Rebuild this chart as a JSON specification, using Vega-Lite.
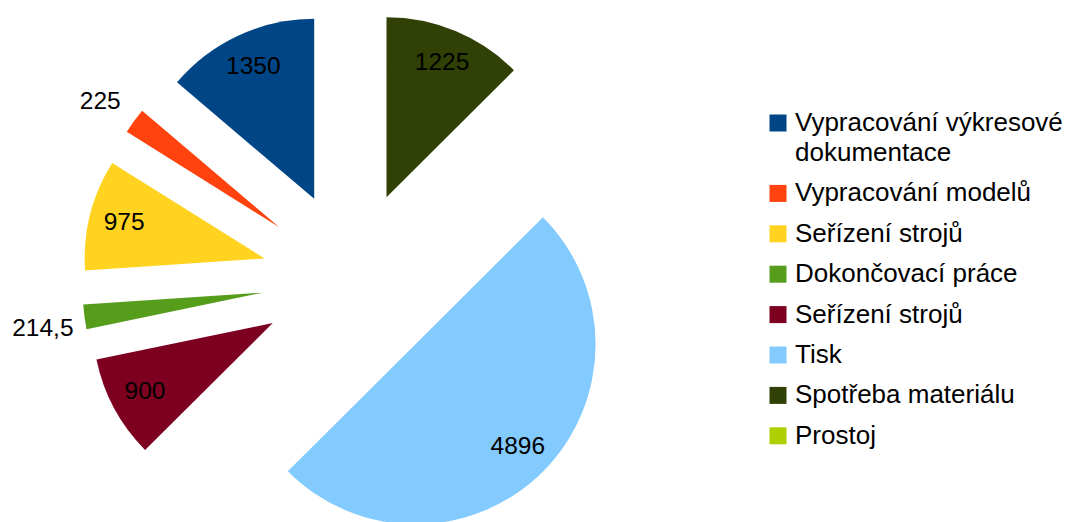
{
  "$schema": "https://vega.github.io/schema/vega-lite/v6.json",
  "width": 704,
  "height": 483,
  "autosize": "none",
  "padding": {"left": 0, "top": 39, "right": 367, "bottom": 0},
  "background": "white",
  "data": {
    "values": [
      {"cat": "Vypracování výkresové dokumentace", "value": 1350, "idx": 1},
      {"cat": "Vypracování modelů", "value": 225, "idx": 2},
      {"cat": "Seřízení strojů", "value": 975, "idx": 3},
      {"cat": "Dokončovací práce", "value": 214.5, "idx": 4},
      {"cat": "Seřízení strojů ", "value": 900, "idx": 5},
      {"cat": "Tisk", "value": 4896, "idx": 6},
      {"cat": "Spotřeba materiálu", "value": 1225, "idx": 7},
      {"cat": "Prostoj", "value": 0, "idx": 8}
    ]
  },
  "encoding": {
    "theta": {"field": "value", "type": "quantitative", "stack": true},
    "order": {"field": "idx", "type": "quantitative", "sort": "descending"}
  },
  "layer": [
    {
      "mark": {
        "type": "arc",
        "radius": 180,
        "xOffset": {"expr": "90*sin(scale('theta', (datum.value_start + datum.value_end)/2))"},
        "yOffset": {"expr": "-90*cos(scale('theta', (datum.value_start + datum.value_end)/2))"}
      },
      "encoding": {
        "color": {
          "field": "cat",
          "type": "nominal",
          "scale": {
            "domain": ["Vypracování výkresové dokumentace", "Vypracování modelů", "Seřízení strojů", "Dokončovací práce", "Seřízení strojů ", "Tisk", "Spotřeba materiálu", "Prostoj"],
            "range": ["#004586", "#ff420e", "#ffd320", "#579d1c", "#7e0021", "#83caff", "#314004", "#aecf00"]
          },
          "legend": {
            "title": null,
            "orient": "none",
            "legendX": 765,
            "legendY": 71,
            "padding": 0,
            "symbolType": "square",
            "symbolSize": 289,
            "symbolStrokeWidth": 0,
            "labelFont": "Liberation Sans",
            "labelFontSize": 26,
            "labelColor": "#000000",
            "labelLimit": 400,
            "labelOffset": 4,
            "rowPadding": 14.4,
            "labelExpr": "datum.label == 'Vypracování výkresové dokumentace' ? ['Vypracování výkresové', 'dokumentace'] : datum.label",
            "encode": {"labels": {"update": {"lineHeight": {"value": 30}}}}
          }
        }
      }
    },
    {
      "mark": {
        "type": "text",
        "radius": 145,
        "font": "Liberation Sans",
        "fontSize": 24.5,
        "color": "#000000",
        "align": "center",
        "baseline": "middle",
        "xOffset": {"expr": "90*sin(scale('theta', (datum.value_start + datum.value_end)/2))"},
        "yOffset": {"expr": "-90*cos(scale('theta', (datum.value_start + datum.value_end)/2))"}
      },
      "encoding": {
        "text": {
          "condition": {"test": "datum.value >= 500", "field": "value", "type": "quantitative", "format": ".5~g"},
          "value": ""
        }
      }
    },
    {
      "mark": {
        "type": "text",
        "radius": 222,
        "dy": 6,
        "font": "Liberation Sans",
        "fontSize": 24.5,
        "color": "#000000",
        "align": "center",
        "baseline": "middle",
        "xOffset": {"expr": "90*sin(scale('theta', (datum.value_start + datum.value_end)/2))"},
        "yOffset": {"expr": "-90*cos(scale('theta', (datum.value_start + datum.value_end)/2))"}
      },
      "encoding": {
        "text": {
          "condition": {"test": "datum.value > 0 && datum.value < 500", "field": "value", "type": "quantitative", "format": ".5~g"},
          "value": ""
        }
      }
    }
  ],
  "config": {
    "view": {"stroke": null},
    "locale": {"number": {"decimal": ",", "thousands": "\u00a0", "grouping": [3], "currency": ["", " Kč"]}}
  }
}
